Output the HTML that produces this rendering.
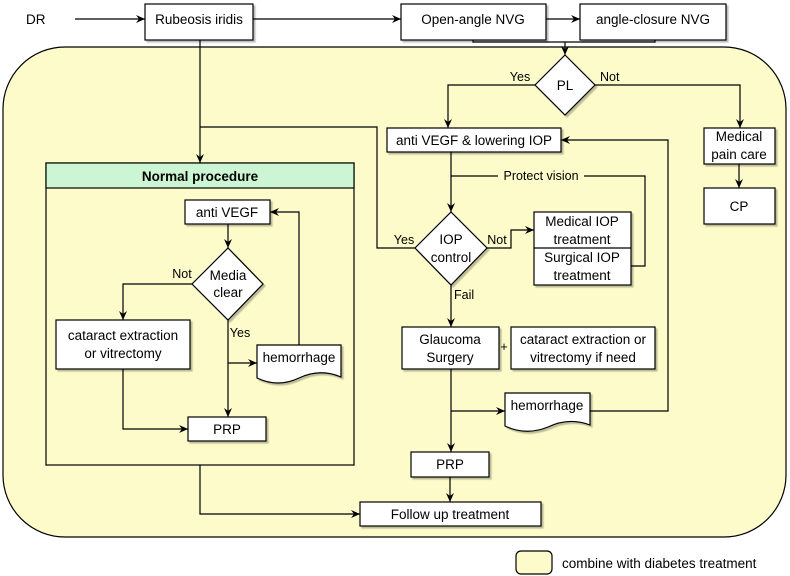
<!DOCTYPE html>
<html><head><meta charset="utf-8"><style>
html,body{margin:0;padding:0;background:#fff;}
svg{display:block;font-family:"Liberation Sans",sans-serif;}
text{font-size:13.5px;fill:#000;}
.b{fill:#fff;stroke:#000;stroke-width:1.2;filter:url(#sh);}
.l{fill:none;stroke:#000;stroke-width:1.2;}
</style></head><body>
<svg width="790" height="576" viewBox="0 0 790 576" xmlns="http://www.w3.org/2000/svg">
<defs>
<marker id="a" markerWidth="10" markerHeight="10" refX="9" refY="5" orient="auto" markerUnits="userSpaceOnUse">
<path d="M0,1 L9,5 L0,9 L3,5 Z" fill="#000"/></marker>
<filter id="sh" x="-10%" y="-10%" width="130%" height="130%"><feDropShadow dx="2" dy="2" stdDeviation="0.6" flood-color="#000" flood-opacity="0.25"/></filter>
</defs>
<rect x="3" y="47" width="783" height="490" rx="62" fill="#fdfbca" stroke="#000" stroke-width="1.2"/>
<text x="26" y="24">DR</text>
<line class="l" x1="75" y1="19" x2="145" y2="19" marker-end="url(#a)"/>
<rect class="b" x="145" y="4" width="108" height="36"/>
<text x="199" y="24" text-anchor="middle">Rubeosis iridis</text>
<line class="l" x1="253" y1="19" x2="401" y2="19" marker-end="url(#a)"/>
<rect class="b" x="401" y="4" width="145" height="36"/>
<text x="473" y="24" text-anchor="middle">Open-angle NVG</text>
<line class="l" x1="546" y1="19" x2="580" y2="19" marker-end="url(#a)"/>
<rect class="b" x="580" y="4" width="146" height="36"/>
<text x="653" y="24" text-anchor="middle">angle-closure NVG</text>
<polyline class="l" points="473,40 473,42 655,42 655,40"/>
<line class="l" x1="565" y1="42" x2="565" y2="55" marker-end="url(#a)"/>
<polygon class="b" points="565,55 595,85 565,115 535,85"/>
<text x="565" y="90" text-anchor="middle">PL</text>
<text x="520" y="81" text-anchor="middle" style="font-size:12.5px">Yes</text>
<text x="600" y="81" style="font-size:12.5px">Not</text>
<polyline class="l" points="535,85 448,85 448,128" marker-end="url(#a)"/>
<polyline class="l" points="595,85 740,85 740,128" marker-end="url(#a)"/>
<rect class="b" x="387" y="128" width="174" height="24"/>
<text x="474" y="145" text-anchor="middle">anti VEGF &amp; lowering IOP</text>
<rect class="b" x="704" y="128" width="71" height="36"/>
<text x="739" y="141" text-anchor="middle">Medical</text>
<text x="739" y="159" text-anchor="middle">pain care</text>
<line class="l" x1="739" y1="164" x2="739" y2="188" marker-end="url(#a)"/>
<rect class="b" x="704" y="188" width="71" height="36"/>
<text x="739" y="211" text-anchor="middle">CP</text>
<line class="l" x1="200" y1="40" x2="200" y2="163" marker-end="url(#a)"/>
<polyline class="l" points="200,127 377,127 377,248 415,248"/>
<rect x="46" y="163" width="308" height="302" fill="none" stroke="#000" stroke-width="1.2"/>
<rect x="46" y="163" width="308" height="25" fill="#ccf5d3" stroke="#000" stroke-width="1.2"/>
<text x="200" y="181" text-anchor="middle" font-weight="bold">Normal procedure</text>
<rect class="b" x="185" y="200" width="85" height="24"/>
<text x="227" y="217" text-anchor="middle">anti VEGF</text>
<line class="l" x1="228" y1="224" x2="228" y2="248" marker-end="url(#a)"/>
<polygon class="b" points="228,248 263,284 228,320 192,284"/>
<text x="228" y="280" text-anchor="middle">Media</text>
<text x="228" y="297" text-anchor="middle">clear</text>
<text x="182" y="278" text-anchor="middle" style="font-size:12.5px">Not</text>
<polyline class="l" points="192,284 123,284 123,320" marker-end="url(#a)"/>
<rect class="b" x="56" y="320" width="134" height="49"/>
<text x="123" y="340" text-anchor="middle">cataract extraction</text>
<text x="123" y="358" text-anchor="middle">or vitrectomy</text>
<text x="240" y="337" text-anchor="middle" style="font-size:12.5px">Yes</text>
<line class="l" x1="228" y1="320" x2="228" y2="417" marker-end="url(#a)"/>
<line class="l" x1="228" y1="363" x2="257" y2="363" marker-end="url(#a)"/>
<path class="b" d="M257,345 H341 V377 Q320,368 299,378 Q278,388 257,378 Z"/>
<text x="299" y="362" text-anchor="middle">hemorrhage</text>
<polyline class="l" points="299,345 299,212 270,212" marker-end="url(#a)"/>
<polyline class="l" points="123,369 123,429 188,429" marker-end="url(#a)"/>
<rect class="b" x="188" y="417" width="78" height="24"/>
<text x="227" y="434" text-anchor="middle">PRP</text>
<polyline class="l" points="200,465 200,514 360,514" marker-end="url(#a)"/>
<line class="l" x1="451" y1="152" x2="451" y2="212" marker-end="url(#a)"/>
<polyline class="l" points="451,176 498,176"/>
<polyline class="l" points="584,176 645,176 645,266 631,266"/>
<text x="541" y="180" text-anchor="middle" style="font-size:12.5px">Protect vision</text>
<polygon class="b" points="451,212 487,248 451,285 415,248"/>
<text x="451" y="244" text-anchor="middle">IOP</text>
<text x="451" y="262" text-anchor="middle">control</text>
<text x="404" y="244" text-anchor="middle" style="font-size:12.5px">Yes</text>
<text x="497" y="244" text-anchor="middle" style="font-size:12.5px">Not</text>
<polyline class="l" points="487,248 511,248 511,230 534,230" marker-end="url(#a)"/>
<rect class="b" x="534" y="212" width="97" height="73"/>
<line class="l" x1="534" y1="248" x2="631" y2="248"/>
<text x="582" y="226" text-anchor="middle">Medical IOP</text>
<text x="582" y="244" text-anchor="middle">treatment</text>
<text x="582" y="262" text-anchor="middle">Surgical IOP</text>
<text x="582" y="280" text-anchor="middle">treatment</text>
<line class="l" x1="451" y1="285" x2="451" y2="327" marker-end="url(#a)"/>
<text x="454" y="299" style="font-size:12.5px">Fail</text>
<rect class="b" x="402" y="327" width="97" height="42"/>
<text x="450" y="344" text-anchor="middle">Glaucoma</text>
<text x="450" y="362" text-anchor="middle">Surgery</text>
<text x="504" y="351" text-anchor="middle" style="font-size:12.5px">+</text>
<rect class="b" x="511" y="327" width="144" height="42"/>
<text x="583" y="344" text-anchor="middle">cataract extraction or</text>
<text x="583" y="362" text-anchor="middle">vitrectomy if need</text>
<line class="l" x1="451" y1="369" x2="451" y2="452" marker-end="url(#a)"/>
<line class="l" x1="451" y1="411" x2="505" y2="411" marker-end="url(#a)"/>
<path class="b" d="M505,393 H590 V425 Q569,417 548,427 Q526,436 505,426 Z"/>
<text x="547" y="410" text-anchor="middle">hemorrhage</text>
<polyline class="l" points="590,411 668,411 668,140 561,140" marker-end="url(#a)"/>
<rect class="b" x="411" y="452" width="78" height="25"/>
<text x="450" y="469" text-anchor="middle">PRP</text>
<line class="l" x1="450" y1="477" x2="450" y2="502" marker-end="url(#a)"/>
<rect class="b" x="360" y="502" width="181" height="24"/>
<text x="450" y="519" text-anchor="middle">Follow up treatment</text>
<rect x="516" y="551" width="36" height="23" rx="5" fill="#fdfbca" stroke="#000" stroke-width="1.2"/>
<text x="562" y="568">combine with diabetes treatment</text>
</svg>
</body></html>
